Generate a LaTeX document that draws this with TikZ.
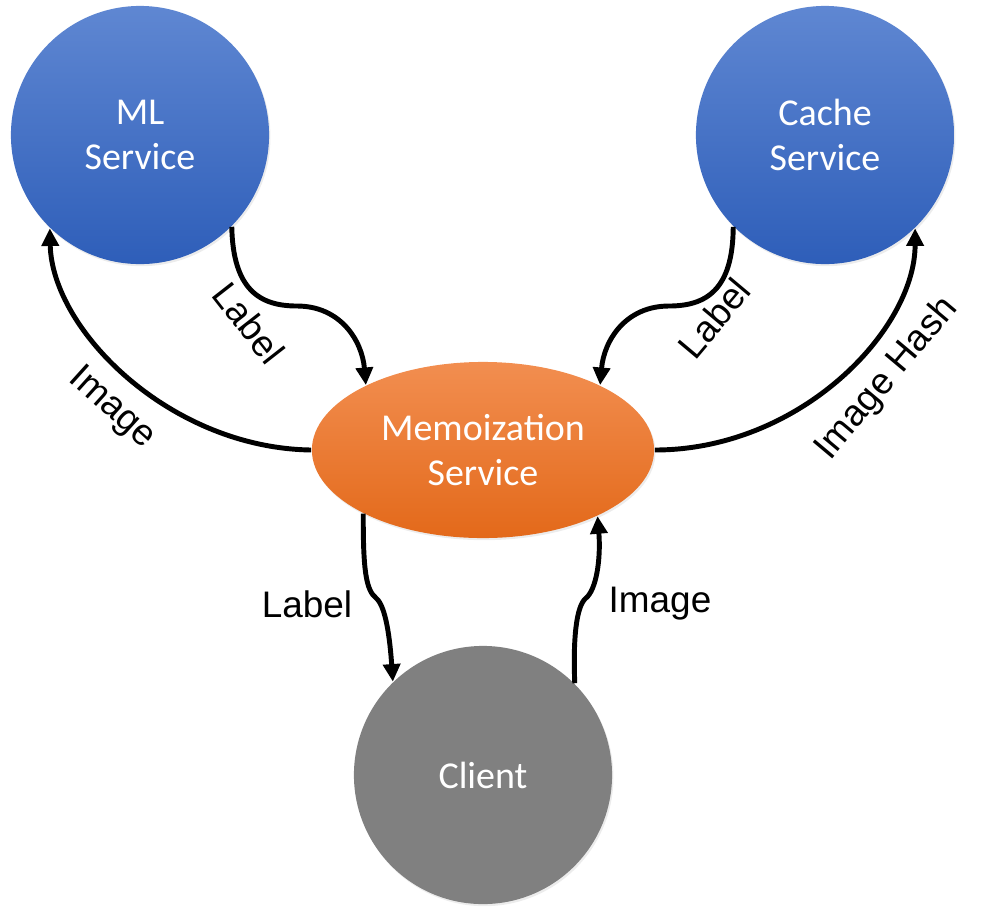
\documentclass[tikz,border=0pt]{standalone}
\usepackage{fontspec}
\setmainfont{Liberation Sans}
\newfontfamily\shapefont{Carlito}
\usetikzlibrary{arrows.meta,shapes.geometric,shadows}
\definecolor{bluetop}{HTML}{5F87D2}
\definecolor{bluebot}{HTML}{2E5EB9}
\definecolor{orangetop}{HTML}{F28E50}
\definecolor{orangebot}{HTML}{E3691A}
\definecolor{clientgray}{HTML}{808080}

\begin{document}
\begin{tikzpicture}[x=0.01cm, y=-0.01cm,
		service/.style={circle, minimum size=2.58cm, inner sep=0pt, text=white, align=center,
			font=\shapefont\fontsize{10.8}{12.8}\selectfont,
			drop shadow={opacity=0.15, shadow xshift=0.4pt, shadow yshift=-0.6pt}},
		flow/.style={line width=1.4pt, -{Triangle[length=5pt, width=4.8pt]}},
		lbl/.style={font=\fontsize{10.5}{12}\selectfont, inner sep=1pt}]
	\useasboundingbox (0,0) rectangle (1002,914);

	% services
	\node[service, top color=bluetop, bottom color=bluebot] (ml) at (140,135) {ML\\Service};
	\node[service, top color=bluetop, bottom color=bluebot] (cache) at (825,135) {Cache\\Service};
	\node[service, fill=clientgray] (client) at (483,775) {Client};
	\node[service, ellipse, minimum width=3.42cm, minimum height=1.76cm,
		top color=orangetop, bottom color=orangebot] (memo) at (483,450) {Memoization\\Service};

	% top flows
	\draw[flow] (ml.-45) .. controls (233,290) and (260,306) .. (297,306)
		.. controls (340,306) and (362,340) .. (memo.151);
	\draw[flow] (memo.west) .. controls (170,448) and (52,330) .. (ml.-134);
	\draw[flow] (cache.-135) .. controls (733,290) and (706,306) .. (669,306)
		.. controls (626,306) and (604,340) .. (memo.29);
	\draw[flow] (memo.east) .. controls (800,450) and (915,330) .. (cache.-46);

	% bottom flows
	\draw[flow] (memo.-152) .. controls (363,570) and (366,590) .. (376,598)
		.. controls (386,606) and (390,640) .. (client.134);
	\draw[flow] (client.45) .. controls (573,640) and (576,606) .. (586,598)
		.. controls (596,590) and (601,560) .. (memo.-30);

	% labels
	\node[lbl, rotate=-52] (lblml) at (249,323) {Label};
	\node[lbl, rotate=-42] (imgml) at (112,408) {Image};
	\node[lbl, rotate=50] (lblcache) at (714,318) {Label};
	\node[lbl, rotate=50] (hashcache) at (887,379) {Image Hash};
	\node[lbl] (lblclient) at (307,604) {Label};
	\node[lbl] (imgclient) at (660,604) {Image};
\end{tikzpicture}
\end{document}
